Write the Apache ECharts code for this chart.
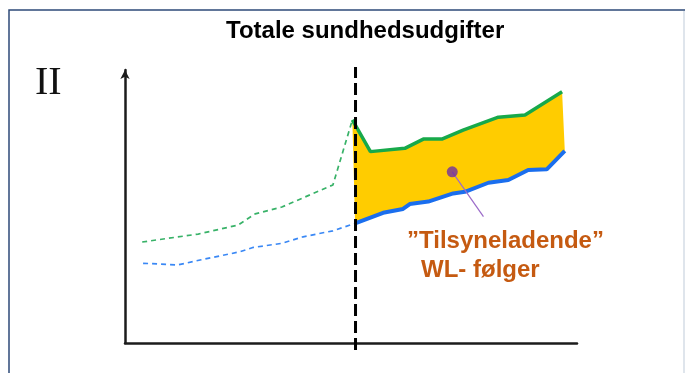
<!DOCTYPE html>
<html>
<head>
<meta charset="utf-8">
<script src="https://cdn.jsdelivr.net/npm/echarts@6/dist/echarts.min.js"></script>
<style>
  html, body { margin: 0; padding: 0; background: #fff; }
  #chart { width: 685px; height: 373px; }
</style>
</head>
<body>
<div id="chart"></div>
<script>
// Time runs along x (0-100), spending level along y (0-100); no scale labels are shown.
const breakX = 51;

// Total spending, dashed history and solid continuation
const greenDashed = [[3.8, 37.0], [16.2, 39.9], [25.0, 43.2], [28.8, 47.3], [34.7, 49.8], [46.0, 57.9], [50.3, 81.7]];
const greenSolid  = [[50.3, 81.7], [54.3, 70.1], [61.9, 71.3], [66.0, 74.7], [70.1, 74.7], [74.8, 78.0], [82.6, 82.7], [88.5, 83.5], [96.7, 92.0]];

// Underlying trend, dashed history and solid continuation
const blueDashed = [[4.0, 29.2], [11.7, 28.6], [16.6, 30.4], [25.4, 33.4], [28.3, 35.0], [34.7, 36.5], [39.4, 38.9], [46.0, 41.1], [50.9, 43.8]];
const blueSolid  = [[50.9, 43.8], [57.1, 47.7], [61.5, 49.1], [63.0, 50.9], [67.1, 51.8], [72.6, 54.8], [75.2, 55.4], [80.4, 58.7], [84.8, 59.7], [89.2, 63.4], [93.3, 63.6], [97.3, 70.4]];

// Pointer from the shaded gap to its caption
const pointerDot = [72.4, 62.7];
const pointerEnd = [79.3, 46.3];

const titleText = 'Totale sundhedsudgifter';
const panelText = 'II';
const captionLines = ['\u201DTilsyneladende\u201D', 'WL- f\u00F8lger'];

const SANS = '"Liberation Sans", Arial, Helvetica, sans-serif';
const SERIF = '"Liberation Serif", "Times New Roman", serif';
const CAPTION = '#C55A11';

const chart = echarts.init(document.getElementById('chart'), null, { renderer: 'canvas' });

chart.setOption({
  animation: false,
  backgroundColor: '#ffffff',
  grid: { left: 125, right: 108, top: 70, bottom: 30, containLabel: false },
  xAxis: {
    type: 'value', min: 0, max: 100,
    axisLine: { show: true, onZero: false, lineStyle: { color: '#1c1c1c', width: 2.5 } },
    axisTick: { show: false }, axisLabel: { show: false }, splitLine: { show: false }
  },
  yAxis: {
    type: 'value', min: 0, max: 100,
    axisLine: {
      show: true, onZero: false,
      symbol: ['none', 'arrow'], symbolSize: [7, 9],
      lineStyle: { color: '#1c1c1c', width: 2.5 }
    },
    axisTick: { show: false }, axisLabel: { show: false }, splitLine: { show: false }
  },
  graphic: [
    { type: 'rect', z: 100, silent: true,
      shape: { x: 9, y: 10, width: 690, height: 400 },
      style: { fill: 'none', stroke: '#2E4A78', lineWidth: 1.5 } },
    { type: 'line', z: 100, silent: true,
      shape: { x1: 684, y1: 11, x2: 684, y2: 373 },
      style: { stroke: '#D5DCE6', lineWidth: 1.5 } },
    { type: 'text', left: 226, top: 19, silent: true,
      style: { text: titleText, font: 'bold 24px ' + SANS, fill: '#000' } },
    { type: 'text', left: 35, top: 63, silent: true,
      style: { text: panelText, font: '40px ' + SERIF, fill: '#111' } },
    { type: 'text', left: 407, top: 229, silent: true,
      style: { text: captionLines[0], font: 'bold 24px ' + SANS, fill: CAPTION } },
    { type: 'text', left: 421, top: 258, silent: true,
      style: { text: captionLines[1], font: 'bold 24px ' + SANS, fill: CAPTION } }
  ],
  series: [
    {
      // shaded gap between the two solid curves
      type: 'custom', coordinateSystem: 'cartesian2d', clip: false, silent: true, z: 1,
      data: [[50, 50]],
      renderItem: function (params, api) {
        const pts = greenSolid.map(function (p) { return api.coord(p); })
          .concat(blueSolid.slice().reverse().map(function (p) { return api.coord(p); }));
        return { type: 'polygon', shape: { points: pts }, style: { fill: '#FFCC00' } };
      }
    },
    {
      type: 'line', data: greenDashed, symbol: 'none', clip: false, z: 3,
      lineStyle: { color: '#38B268', width: 1.7, type: [5, 4] }
    },
    {
      type: 'line', data: blueDashed, symbol: 'none', clip: false, z: 3,
      lineStyle: { color: '#3A88F5', width: 1.7, type: [5, 4] }
    },
    {
      type: 'line', data: greenSolid, symbol: 'none', clip: false, z: 4,
      lineStyle: { color: '#17A94A', width: 3.5 }
    },
    {
      type: 'line', data: blueSolid, symbol: 'none', clip: false, z: 4,
      lineStyle: { color: '#1A6EEE', width: 4 }
    },
    {
      // forecast start
      type: 'line', data: [[breakX, -2.6], [breakX, 101.1]], symbol: 'none', clip: false, z: 5,
      lineStyle: { color: '#000', width: 3, type: [12, 5] }
    },
    {
      type: 'line', data: [pointerDot, pointerEnd], symbol: 'none', clip: false, z: 6,
      lineStyle: { color: '#9B6BC9', width: 1.2 }
    },
    {
      type: 'scatter', data: [pointerDot], symbol: 'circle', symbolSize: 11, clip: false, z: 7,
      itemStyle: { color: '#7030A0' }
    }
  ]
});
</script>
</body>
</html>
